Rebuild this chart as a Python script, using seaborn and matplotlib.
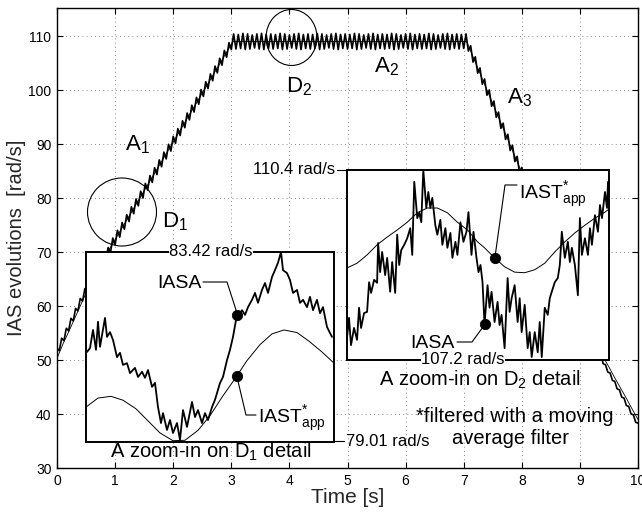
import numpy as np
import matplotlib
matplotlib.use("Agg")
import matplotlib.pyplot as plt
import seaborn as sns
from matplotlib.patches import Ellipse
from matplotlib.lines import Line2D

# ------------------------------------------------------------------ data
# main IASA, sampled every 0.04 s from 0 to 10 s  [rad/s]
iasa_main = [
    52.20, 51.72, 54.04, 53.56, 55.88, 55.40, 57.72, 57.24, 59.56, 59.08, 61.40, 60.92, 63.24,
    62.68, 64.83, 64.18, 66.33, 65.68, 67.83, 67.18, 69.33, 68.68, 70.83,
    69.86, 72.59, 71.31, 74.03, 72.76, 75.48, 74.21, 76.93, 75.65, 78.38, 77.10, 79.83, 78.55,
    81.27, 80.00, 82.72, 81.45, 84.17, 82.89, 85.62, 84.34, 87.07, 85.79, 88.51, 87.24, 89.96,
    88.69, 91.41, 90.13, 92.86, 91.58, 94.31, 93.03, 95.75, 94.48, 97.20, 95.93, 98.65, 97.37,
    100.10, 98.82, 101.55, 100.27, 102.99, 101.72, 104.44, 103.17, 105.89, 104.61, 107.34,
    106.06, 108.79, 107.51,
    110.4, 107.6, 110.3, 107.7, 110.5, 107.5, 110.4, 107.6, 110.2, 107.8, 110.4, 107.6, 110.5, 107.5, 110.3, 107.7,
    110.4, 107.6, 110.3, 107.7, 110.5, 107.5, 110.4, 107.6, 110.2, 107.8, 110.4, 107.6, 110.5, 107.5, 110.3, 107.7,
    110.4, 107.6, 110.3, 107.7, 110.5, 107.5, 110.4, 107.6, 110.2, 107.8, 110.4, 107.6, 110.5, 107.5, 110.3, 107.7,
    110.4, 107.6, 110.3, 107.7, 110.5, 107.5, 110.4, 107.6, 110.2, 107.8, 110.4, 107.6, 110.5, 107.5, 110.3, 107.7,
    110.4, 107.6, 110.3, 107.7, 110.5, 107.5, 110.4, 107.6, 110.2, 107.8, 110.4, 107.6, 110.5, 107.5, 110.3, 107.7,
    110.4, 107.6, 110.3, 107.7, 110.5, 107.5, 110.4, 107.6, 110.2, 107.8, 110.4, 107.6, 110.5, 107.5, 110.3, 107.7,
    110.4, 107.6, 110.3, 107.7, 110.4,
    107.23, 108.21, 105.18, 106.16, 103.14, 104.11, 101.09, 102.06, 99.04, 100.02, 96.99, 97.97,
    94.94, 95.92, 92.90, 93.87, 90.85, 91.82, 88.80, 89.78, 86.75, 87.73, 84.70, 85.68,
    82.66, 83.63, 80.61, 81.58, 78.56, 79.54, 76.51, 77.49, 74.46, 75.44, 72.42, 73.39, 70.37,
    71.34, 68.32, 69.30, 66.27, 67.25, 64.22, 65.20, 62.18, 63.15, 60.13, 61.10, 58.08,
    58.73, 56.58, 56.84, 54.69, 54.94, 52.79, 53.05, 50.90, 51.15,
    49.31, 49.14, 47.77, 47.59, 46.22, 46.04, 44.67, 44.49, 43.12, 42.95, 41.57, 41.40,
    40.02, 39.85, 38.47, 38.30,
]
t_main = np.linspace(0.0, 10.0, len(iasa_main))

# main IAST (filtered), read at key times
iast_main_t = [0.0, 0.1, 0.2, 0.3, 0.4, 0.5, 0.9, 3.03, 7.05, 8.0, 9.0, 9.4, 9.5, 9.6, 9.7, 9.8, 9.9, 10.0]
iast_main = [50.3, 52.9, 55.2, 57.6, 60.0, 62.4, 70.5, 109.0, 109.0, 84.7, 59.4, 50.6, 48.7, 46.7, 44.8, 42.9, 40.9, 39.0]

# zoom D1 (samples, rad/s)
d1_iasa_x = [1, 4, 7, 10, 12, 14, 19, 21, 24, 27, 31, 34, 37, 41, 44, 49, 52, 56, 59, 62, 66, 69, 72, 75, 77,
             81, 84, 87, 91, 94, 97, 101, 106, 109, 112, 116, 119, 122, 126, 129, 134, 137, 141, 144, 147,
             150, 152, 156, 159, 162, 166, 169, 172, 176, 179, 182, 186, 189, 192, 195, 197, 201, 204, 207,
             211, 214, 217, 221, 224, 227, 231, 234, 237, 241, 244, 246]
d1_iasa = [81.10, 81.19, 81.61, 81.15, 81.80, 81.22, 81.89, 81.45, 81.56, 81.38, 80.98, 81.08, 80.80, 80.84,
           80.61, 80.73, 80.52, 80.64, 80.50, 80.68, 80.29, 80.38, 79.82, 79.45, 79.68, 79.29, 79.52, 79.22,
           79.45, 79.06, 79.75, 79.36, 79.94, 79.59, 79.75, 79.45, 79.68, 79.52, 79.82, 79.99, 80.38, 80.52,
           80.91, 81.15, 81.45, 81.84, 81.91, 82.07, 81.96, 82.14, 82.31, 82.47, 82.24, 82.54, 82.70, 82.47,
           82.84, 83.00, 83.17, 83.42, 83.00, 82.93, 82.77, 82.47, 82.54, 82.24, 82.31, 82.14, 82.38, 82.07,
           82.31, 82.00, 82.14, 81.68, 81.54, 81.45]
d1_iast_x = [0, 12, 25, 37, 50, 62, 74, 87, 99, 112, 124, 136, 149, 161, 174, 186, 198, 211, 223, 236, 248]
d1_iast = [79.82, 80.03, 80.07, 79.98, 79.78, 79.50, 79.22, 79.04, 79.05, 79.28, 79.62, 80.05, 80.48, 80.90,
           81.27, 81.52, 81.61, 81.55, 81.35, 81.10, 80.84]
d1_range = [79.01, 83.42]
d1_mark_x = [151, 151]
d1_mark_y = [81.95, 80.54]

# zoom D2 (samples, rad/s)
d2_iasa_x = [0, 2, 4, 7, 10, 12, 14, 17, 20, 22, 24, 27, 30, 31, 33, 35, 38, 40, 43, 45, 48, 50, 52, 54, 57,
             60, 63, 65, 67, 70, 72, 74, 76, 79, 81, 83, 85, 88, 90, 93, 95, 98, 100, 103, 105, 108, 110, 113,
             116, 119, 121, 124, 126, 129, 131, 133, 135, 137, 140, 142, 144, 147, 150, 152, 154, 157, 160,
             162, 164, 167, 170, 172, 174, 177, 180, 182, 184, 187, 190, 192, 194, 197, 200, 202, 204, 207,
             210, 212, 214, 217, 220, 222, 224, 227, 230, 232, 234, 237, 240, 242, 244, 247, 250, 252, 254,
             257, 259, 260]
d2_iasa = [107.57, 107.91, 107.45, 107.74, 107.54, 108.08, 107.74, 107.99, 108.01, 108.51, 108.33, 108.55,
           108.50, 109.17, 108.68, 109.02, 108.63, 108.92, 108.35, 108.85, 108.33, 109.31, 108.80, 109.05,
           109.14, 109.25, 109.42, 108.97, 110.20, 109.59, 109.68, 109.52, 110.40, 109.76, 110.03, 109.76,
           109.93, 109.47, 109.31, 109.56, 109.14, 109.42, 109.09, 109.34, 108.92, 109.19, 108.97, 109.52,
           109.19, 109.36, 109.69, 108.97, 109.36, 108.92, 108.68, 108.80, 108.51, 107.80, 108.46, 108.08,
           108.35, 107.84, 108.18, 107.79, 107.96, 107.40, 108.58, 108.01, 108.24, 108.46, 107.84, 108.24,
           107.67, 108.13, 107.40, 107.67, 107.25, 107.67, 107.33, 107.84, 107.25, 108.08, 107.96, 108.24,
           108.35, 108.51, 108.58, 108.80, 109.36, 108.92, 109.19, 108.85, 109.09, 108.80, 108.29, 109.59,
           108.97, 109.25, 108.97, 109.42, 109.14, 109.64, 109.36, 109.81, 109.59, 110.03, 109.76, 110.20]
d2_iast_x = [0, 10, 20, 30, 40, 50, 60, 70, 80, 90, 100, 110, 120, 130, 137, 147, 157, 167, 177, 187, 197,
             207, 217, 227, 237, 247, 257, 260]
d2_iast = [108.75, 108.83, 108.97, 109.14, 109.27, 109.39, 109.52, 109.68, 109.76, 109.76, 109.68, 109.52,
           109.39, 109.19, 109.09, 108.92, 108.77, 108.68, 108.67, 108.72, 108.83, 109.02, 109.19, 109.34,
           109.47, 109.59, 109.69, 109.73]
d2_range = [107.2, 110.4]
d2_mark_x = [147, 137]
d2_mark_y = [108.92, 107.80]

x_ticks = list(range(0, 11))
y_ticks = list(range(30, 111, 10))

# ------------------------------------------------------------------ style
sns.set_style("ticks")
plt.rcParams.update({
    "font.family": ["Liberation Sans", "DejaVu Sans"],
    "mathtext.fontset": "custom",
    "mathtext.rm": "Liberation Sans",
    "mathtext.it": "Liberation Sans:italic",
    "mathtext.bf": "Liberation Sans:bold",
    "axes.edgecolor": "black",
    "xtick.color": "black",
    "ytick.color": "black",
    "text.color": "black",
})

W, H = 642, 513
fig = plt.figure(figsize=(W / 100, H / 100), dpi=100)
fig.patch.set_facecolor("white")


def box(x0, y0, x1, y1):
    return [x0 / W, 1 - y1 / H, (x1 - x0) / W, (y1 - y0) / H]


# ------------------------------------------------------------------ main axes
ax = fig.add_axes(box(57, 8, 638, 468))
sns.lineplot(x=t_main, y=iasa_main, ax=ax, color="black", lw=1.2, estimator=None, sort=False)
sns.lineplot(x=iast_main_t, y=iast_main, ax=ax, color="black", lw=0.6, estimator=None, sort=False)
ax.set_xlim(0, 10)
ax.set_ylim(30, 115.2)
ax.set_xticks(x_ticks)
ax.set_yticks(y_ticks)
ax.tick_params(direction="in", top=True, right=True, length=4, width=0.8, labelsize=10, pad=4)
ax.grid(True, linestyle=(0, (1, 4)), color="0.4", lw=0.6)
for s in ax.spines.values():
    s.set_linewidth(1.0)
ax.set_xlabel("Time [s]", fontsize=15, labelpad=0)
ax.set_ylabel("IAS evolutions  [rad/s]", fontsize=14.5, labelpad=2)

# ------------------------------------------------------------------ inset D1
a1 = fig.add_axes(box(86, 252, 334, 442))
a1.set_facecolor("white")
sns.lineplot(x=d1_iast_x, y=d1_iast, ax=a1, color="black", lw=0.7, estimator=None, sort=False)
sns.lineplot(x=d1_iasa_x, y=d1_iasa, ax=a1, color="black", lw=1.3, estimator=None, sort=False)
sns.scatterplot(x=d1_mark_x, y=d1_mark_y, ax=a1, color="black", s=55, zorder=5, edgecolor="black")
a1.set_xlim(0, 248)
a1.set_ylim(d1_range[0], d1_range[1])
a1.set_xticks([]); a1.set_yticks([])
a1.set_xlabel(""); a1.set_ylabel("")
for s in a1.spines.values():
    s.set_linewidth(1.4)

# ------------------------------------------------------------------ inset D2
a2 = fig.add_axes(box(347, 170, 609, 360))
a2.set_facecolor("white")
sns.lineplot(x=d2_iast_x, y=d2_iast, ax=a2, color="black", lw=0.7, estimator=None, sort=False)
sns.lineplot(x=d2_iasa_x, y=d2_iasa, ax=a2, color="black", lw=1.3, estimator=None, sort=False)
sns.scatterplot(x=d2_mark_x, y=d2_mark_y, ax=a2, color="black", s=55, zorder=5, edgecolor="black")
a2.set_xlim(0, 261)
a2.set_ylim(d2_range[0], d2_range[1])
a2.set_xticks([]); a2.set_yticks([])
a2.set_xlabel(""); a2.set_ylabel("")
for s in a2.spines.values():
    s.set_linewidth(1.4)

# ------------------------------------------------------------------ overlay annotations (pixel space)
ov = fig.add_axes([0, 0, 1, 1])
ov.set_xlim(0, W)
ov.set_ylim(H, 0)
ov.axis("off")
ov.patch.set_alpha(0)

ov.add_patch(Ellipse((122, 212), 69, 68, fill=False, lw=0.8, ec="black"))
ov.add_patch(Ellipse((291.5, 37.5), 51, 56, fill=False, lw=0.8, ec="black"))

for xs, ys in [([203, 227, 237], [282, 282, 313]),
               ([237, 246, 256], [377, 415, 415]),
               ([517, 505, 495], [185, 185, 257]),
               ([457, 472, 483], [342, 342, 327]),
               ([333, 344], [441, 441]),
               ([337, 347], [170, 170])]:
    ov.add_line(Line2D(xs, ys, color="black", lw=0.8))

big = 16
ov.text(137, 145, r"A$_1$", fontsize=big, ha="center", va="center")
ov.text(175, 222, r"D$_1$", fontsize=big, ha="center", va="center")
ov.text(299, 87, r"D$_2$", fontsize=big, ha="center", va="center")
ov.text(386, 67, r"A$_2$", fontsize=big, ha="center", va="center")
ov.text(519, 98, r"A$_3$", fontsize=big, ha="center", va="center")

lab = 14
ov.text(202, 288, "IASA", fontsize=lab, ha="right", va="baseline")
ov.text(258, 423, r"IAST$^{*}_{\mathrm{app}}$", fontsize=lab, ha="left", va="baseline")
ov.text(519, 199, r"IAST$^{*}_{\mathrm{app}}$", fontsize=lab, ha="left", va="baseline")
ov.text(455, 348, "IASA", fontsize=lab, ha="right", va="baseline")

val = 12
wb = dict(facecolor="white", edgecolor="none", pad=0.5)
ov.text(211, 251, "83.42 rad/s", fontsize=val, ha="center", va="center", bbox=wb)
ov.text(346, 441, "79.01 rad/s", fontsize=val, ha="left", va="center")
ov.text(335, 170, "110.4 rad/s", fontsize=val, ha="right", va="center")
ov.text(463, 360, "107.2 rad/s", fontsize=val, ha="center", va="center", bbox=wb)

ttl = 14.5
ov.text(211, 452, r"A zoom-in on D$_1$ detail", fontsize=ttl, ha="center", va="center")
ov.text(480, 380, r"A zoom-in on D$_2$ detail", fontsize=ttl, ha="center", va="center")
ov.text(515, 417, "*filtered with a moving", fontsize=ttl, ha="center", va="center")
ov.text(510, 439, "average filter", fontsize=ttl, ha="center", va="center")

fig.savefig("out.png", dpi=100, facecolor="white")
